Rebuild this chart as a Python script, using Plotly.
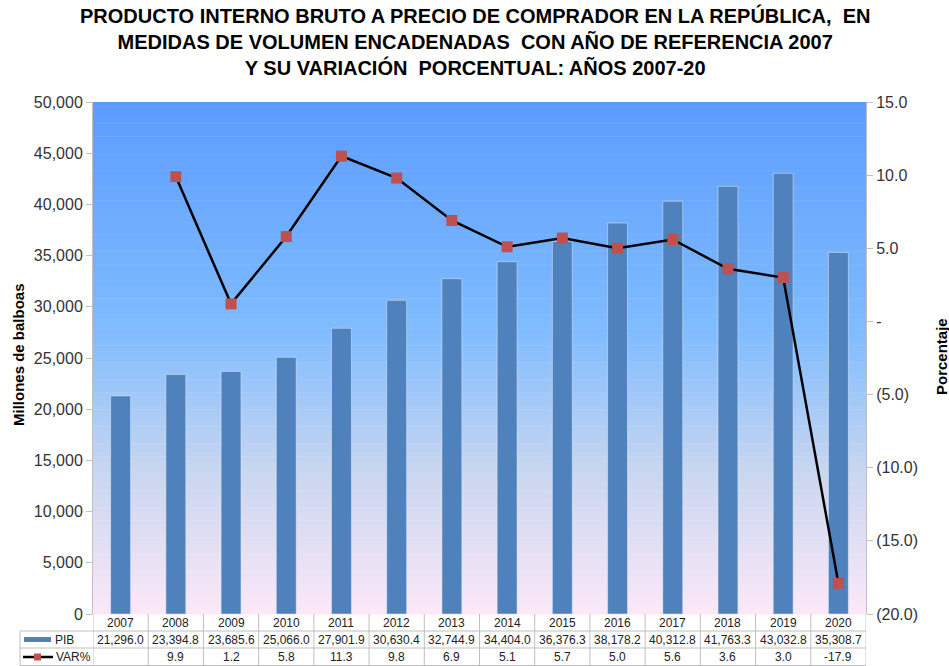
import plotly.graph_objects as go

years = ["2007", "2008", "2009", "2010", "2011", "2012", "2013", "2014",
         "2015", "2016", "2017", "2018", "2019", "2020"]
pib = [21296.0, 23394.8, 23685.6, 25066.0, 27901.9, 30630.4, 32744.9, 34404.0,
       36376.3, 38178.2, 40312.8, 41763.3, 43032.8, 35308.7]
var_pct = [None, 9.9, 1.2, 5.8, 11.3, 9.8, 6.9, 5.1, 5.7, 5.0, 5.6, 3.6, 3.0, -17.9]

left_ticks = list(range(0, 50001, 5000))
right_ticks = [-20, -15, -10, -5, 0, 5, 10, 15]
right_ticktext = ["(20.0)", "(15.0)", "(10.0)", "(5.0)", "-", "5.0", "10.0", "15.0"]

title_text = ("PRODUCTO INTERNO BRUTO A PRECIO DE COMPRADOR EN LA REPÚBLICA,  EN<br>"
              "MEDIDAS DE VOLUMEN ENCADENADAS  CON AÑO DE REFERENCIA 2007<br>"
              "Y SU VARIACIÓN  PORCENTUAL: AÑOS 2007-20")

W, H = 949, 666
L, R, T, B = 93, 83, 102, 52
PW, PH = W - L - R, H - T - B

def px_y(y):  # pixel y -> paper y
    return (H - B - y) / PH

def px_x(x):
    return (x - L) / PW

idx = list(range(len(years)))

fig = go.Figure()
fig.add_trace(go.Bar(x=idx, y=pib, name="PIB", marker_color="#4F81BD",
                     width=0.36, yaxis="y"))
fig.add_trace(go.Scatter(x=idx, y=var_pct, name="VAR%", mode="lines+markers",
                         line=dict(color="black", width=2.5),
                         marker=dict(symbol="square", size=11, color="#C0504D",
                                     line=dict(color="#C0504D", width=0)),
                         yaxis="y2", connectgaps=False))

shapes = []
# gradient background
stops = [(0.0, (92, 156, 255)), (0.45, (128, 188, 255)), (0.72, (200, 214, 240)), (1.0, (252, 232, 248))]
def col(t):
    for i in range(len(stops) - 1):
        a, ca = stops[i]
        b, cb = stops[i + 1]
        if a <= t <= b:
            f = (t - a) / (b - a)
            return "rgb(%d,%d,%d)" % tuple(round(ca[k] + (cb[k] - ca[k]) * f) for k in range(3))
    return "rgb(%d,%d,%d)" % stops[-1][1]
N = 120
for i in range(N):
    t = i / N
    shapes.append(dict(type="rect", xref="paper", yref="paper", x0=0, x1=1,
                       y0=1 - (i + 1) / N - 0.001, y1=1 - i / N,
                       fillcolor=col(t + 0.5 / N), line=dict(width=0), layer="below"))

# table lines
lc = "#BFBFBF"
rows_y = [614, 631, 648, 665.5]
n = len(years)
for yy in rows_y[1:]:
    shapes.append(dict(type="line", xref="paper", yref="paper",
                       x0=px_x(20), x1=1, y0=px_y(yy), y1=px_y(yy),
                       line=dict(color=lc, width=1)))
for i in range(n + 1):
    shapes.append(dict(type="line", xref="x", yref="paper",
                       x0=i - 0.5, x1=i - 0.5, y0=px_y(614), y1=px_y(666),
                       line=dict(color=lc, width=1)))
shapes.append(dict(type="line", xref="paper", yref="paper",
                   x0=px_x(20), x1=px_x(20), y0=px_y(631), y1=px_y(666),
                   line=dict(color=lc, width=1)))
# legend keys
shapes.append(dict(type="rect", xref="paper", yref="paper",
                   x0=px_x(24), x1=px_x(51), y0=px_y(642), y1=px_y(637),
                   fillcolor="#4F81BD", line=dict(width=0)))
shapes.append(dict(type="line", xref="paper", yref="paper",
                   x0=px_x(23), x1=px_x(53), y0=px_y(657), y1=px_y(657),
                   line=dict(color="black", width=2.5)))
shapes.append(dict(type="rect", xref="paper", yref="paper",
                   x0=px_x(34), x1=px_x(41), y0=px_y(660.5), y1=px_y(653.5),
                   fillcolor="#C0504D", line=dict(width=0)))

tfont = dict(family="Liberation Sans Narrow, Arial Narrow, Arial", size=12, color="#222")
ann = []
for i, yr in enumerate(years):
    ann.append(dict(x=i, y=px_y(623), xref="x", yref="paper", text=yr,
                    showarrow=False, font=tfont, yanchor="middle"))
    ann.append(dict(x=i, y=px_y(640), xref="x", yref="paper",
                    text=f"{pib[i]:,.1f}", showarrow=False, font=tfont, yanchor="middle"))
    if var_pct[i] is not None:
        ann.append(dict(x=i, y=px_y(657), xref="x", yref="paper",
                        text=f"{var_pct[i]:.1f}", showarrow=False, font=tfont, yanchor="middle"))
ann.append(dict(x=px_x(53), y=px_y(640), xref="paper", yref="paper", text="PIB",
                showarrow=False, font=tfont, xanchor="left", yanchor="middle"))
ann.append(dict(x=px_x(54), y=px_y(657), xref="paper", yref="paper", text="VAR%",
                showarrow=False, font=tfont, xanchor="left", yanchor="middle"))
ann.append(dict(x=px_x(475), xref="paper", y=px_y(41), yref="paper",
                text=title_text, showarrow=False, xanchor="center", yanchor="middle",
                font=dict(family="Liberation Sans Narrow, Arial Narrow, Arial", size=20,
                          color="black", weight="bold")))
ann.append(dict(x=px_x(18), y=px_y(355), xref="paper", yref="paper",
                xanchor="center", yanchor="middle",
                text="<b>Millones de balboas</b>", textangle=-90, showarrow=False,
                font=dict(family="Arial, Liberation Sans", size=15, color="black")))
ann.append(dict(x=px_x(941), y=px_y(357), xref="paper", yref="paper",
                xanchor="center", yanchor="middle",
                text="<b>Porcentaje</b>", textangle=-90, showarrow=False,
                font=dict(family="Arial, Liberation Sans", size=15, color="black")))

fig.update_layout(
    width=W, height=H,
    margin=dict(l=L, r=R, t=T, b=B),
    paper_bgcolor="white", plot_bgcolor="white",
    showlegend=False,
    shapes=shapes, annotations=ann,
    xaxis=dict(range=[-0.5, n - 0.5], showticklabels=False,
               showline=False, ticks="", showgrid=False, zeroline=False),
    yaxis=dict(range=[0, 50000], tickvals=left_ticks, tickformat=",",
               showgrid=False, zeroline=False, showline=True, linecolor="#BFBFBF",
               ticks="outside", ticklen=6, tickcolor="#BFBFBF",
               tickfont=dict(family="Arial, Liberation Sans", size=16, color="#333")),
    yaxis2=dict(range=[-20, 15], overlaying="y", side="right",
                tickvals=right_ticks, ticktext=right_ticktext,
                showgrid=False, zeroline=False, showline=True, linecolor="#BFBFBF",
                ticks="outside", ticklen=6, tickcolor="#BFBFBF",
                tickfont=dict(family="Arial, Liberation Sans", size=16, color="#333")),
)

fig.write_html("out.html", config={"displayModeBar": False},
               post_script="document.body.style.margin='0';document.body.style.overflow='hidden';")
